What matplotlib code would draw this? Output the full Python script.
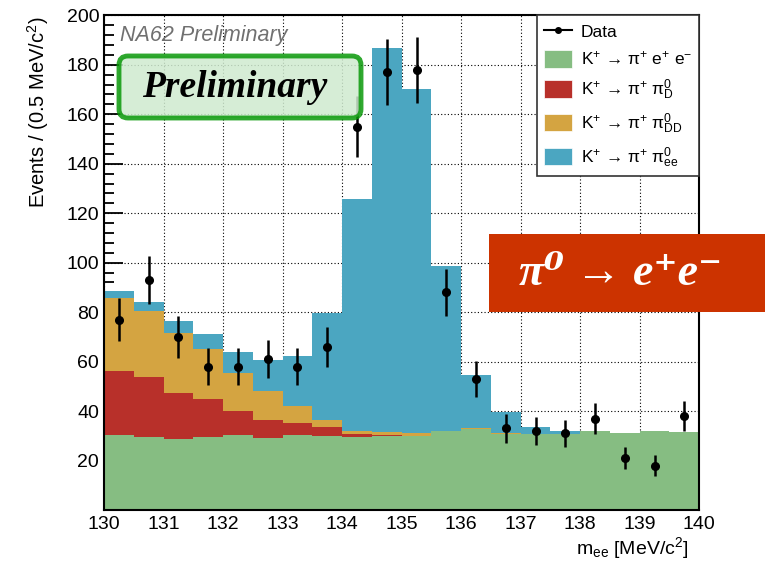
#!/usr/bin/env python3
"""
NA62 m_ee distribution: stacked MC components + data points
"""

import numpy as np
import matplotlib.pyplot as plt
from matplotlib.patches import FancyBboxPatch, Rectangle, Patch
from matplotlib.lines import Line2D
from matplotlib.ticker import MultipleLocator

plt.rcParams['font.family'] = ['Liberation Sans', 'DejaVu Sans']
plt.rcParams['mathtext.fontset'] = 'custom'
plt.rcParams['mathtext.rm'] = 'Liberation Sans'
plt.rcParams['mathtext.it'] = 'Liberation Sans:italic'

# bin edges (MeV/c^2)
bin_edges = np.arange(130.0, 140.01, 0.5)

# MC components per bin (events / 0.5 MeV)
pi_ee_dalitz = [30.4, 29.4, 28.7, 29.6, 30.3, 29.1, 30.4, 29.9, 29.6, 29.8,
                29.9, 31.8, 32.7, 30.7, 30.7, 30.7, 32.0, 31.0, 31.8, 31.4]   # K+ -> pi+ e+ e-
pi0_d = [26.0, 24.4, 18.8, 15.4, 9.8, 7.5, 4.6, 3.7, 1.1, 0.5,
         0.1, 0.0, 0.0, 0.0, 0.0, 0.0, 0.0, 0.0, 0.0, 0.0]
pi0_dd = [29.3, 26.5, 24.1, 20.1, 15.3, 11.5, 7.2, 3.0, 1.2, 1.3,
          1.0, 0.2, 0.5, 0.3, 0.2, 0.2, 0.0, 0.0, 0.0, 0.0]
pi0_ee = [2.9, 4.0, 4.9, 6.2, 8.5, 12.5, 20.0, 43.0, 93.8, 155.2,
          139.1, 66.5, 21.6, 8.8, 2.7, 0.9, 0.0, 0.0, 0.0, 0.0]

# data
data_counts = [77, 93, 70, 58, 58, 61, 58, 66, 155, 177,
               178, 88, 53, 33, 32, 31, 37, 21, 18, 38]

comp_labels = [r'K$^{+}$ → π$^{+}$ e$^{+}$ e$^{-}$',
               r'K$^{+}$ → π$^{+}$ π$^{0}_{\mathrm{D}}$',
               r'K$^{+}$ → π$^{+}$ π$^{0}_{\mathrm{DD}}$',
               r'K$^{+}$ → π$^{+}$ π$^{0}_{\mathrm{ee}}$']
comp_colors = ['#86bd82', '#b8302a', '#d4a441', '#4ba6c1']


def main():
    fig = plt.figure(figsize=(7.65, 5.68), dpi=100)
    ax = fig.add_axes([0.136, 0.102, 0.778, 0.871])

    # stacked histogram
    bottom = np.zeros(len(data_counts))
    for vals, col in zip([pi_ee_dalitz, pi0_d, pi0_dd, pi0_ee], comp_colors):
        top = bottom + np.array(vals)
        ax.stairs(top, bin_edges, baseline=bottom, fill=True, color=col,
                  lw=0, zorder=2)
        bottom = top

    # data with sqrt(N) errors
    centers = 0.5 * (bin_edges[:-1] + bin_edges[1:])
    counts = np.array(data_counts, dtype=float)
    ax.errorbar(centers, counts, yerr=np.sqrt(counts), fmt='o', color='black',
                ms=5.5, elinewidth=1.8, capsize=0, zorder=5)

    ax.set_xlim(130, 140)
    ax.set_ylim(0, 200)
    ax.set_xticks(np.arange(130, 141, 1))
    ax.set_yticks(np.arange(20, 201, 20))
    ax.yaxis.set_minor_locator(MultipleLocator(4))
    ax.tick_params(axis='both', which='both', direction='in', top=False, right=False,
                   labelsize=14, width=1.3)
    ax.tick_params(axis='y', which='major', length=14)
    ax.tick_params(axis='y', which='minor', length=7)
    ax.tick_params(axis='x', which='major', length=9, pad=4)
    ax.set_axisbelow(True)
    ax.grid(True, which='major', linestyle=(0, (1, 2)), color='black', lw=0.8)
    for sp in ax.spines.values():
        sp.set_linewidth(1.5)

    # axis titles
    fig.text(38 / 765, 1 - 16 / 568, r'Events / (0.5 MeV/c$^{2}$)', rotation=90,
             ha='center', va='top', fontsize=14.5)
    fig.text(688 / 765, 1 - 548 / 568, r'm$_{\mathrm{ee}}$ [MeV/c$^{2}$]',
             ha='right', va='center', fontsize=14)

    # legend
    handles = [Line2D([0], [0], color='black', marker='o', ms=4, lw=1.5)]
    handles += [Patch(facecolor=c, edgecolor='white', lw=0.5) for c in comp_colors]
    leg = ax.legend(handles, ['Data'] + comp_labels, loc='upper right',
                    borderaxespad=0, fancybox=False, framealpha=1, fontsize=12.5,
                    handlelength=1.6, handleheight=1.2, labelspacing=0.55,
                    handletextpad=0.5, borderpad=0.4)
    leg.get_frame().set_edgecolor('#333333')
    leg.get_frame().set_linewidth(1.2)
    leg.set_zorder(10)

    # NA62 Preliminary label
    fig.text(120 / 765, 1 - 35 / 568, 'NA62 Preliminary', color='#707070',
             style='italic', fontsize=15.5, ha='left', va='center')

    # green "Preliminary" box
    box = FancyBboxPatch((1.19, 4.50), 2.42, 0.62,
                         boxstyle='round,pad=0,rounding_size=0.09',
                         transform=fig.dpi_scale_trans, facecolor='#cfeacf',
                         edgecolor='#0a990a', lw=3.5, alpha=0.85, zorder=3)
    fig.patches.append(box)
    fig.text(2.345, 4.81, 'Preliminary', family=['Liberation Serif', 'DejaVu Serif'],
             style='italic', weight='bold', fontsize=27, ha='center', va='center',
             color='black', zorder=4, transform=fig.dpi_scale_trans)

    # red pi0 -> e+e- box
    red = Rectangle((4.89, 2.56), 2.9, 0.78, transform=fig.dpi_scale_trans,
                    facecolor='#cc3300', edgecolor='none', zorder=8)
    fig.patches.append(red)
    fig.text(6.21, 2.94, 'π⁰ → e⁺e⁻', family=['Liberation Serif', 'DejaVu Serif'],
             style='italic', weight='bold', fontsize=33, ha='center', va='center',
             color='white', zorder=9, transform=fig.dpi_scale_trans)

    plt.savefig('out.png', dpi=100)


if __name__ == '__main__':
    main()
